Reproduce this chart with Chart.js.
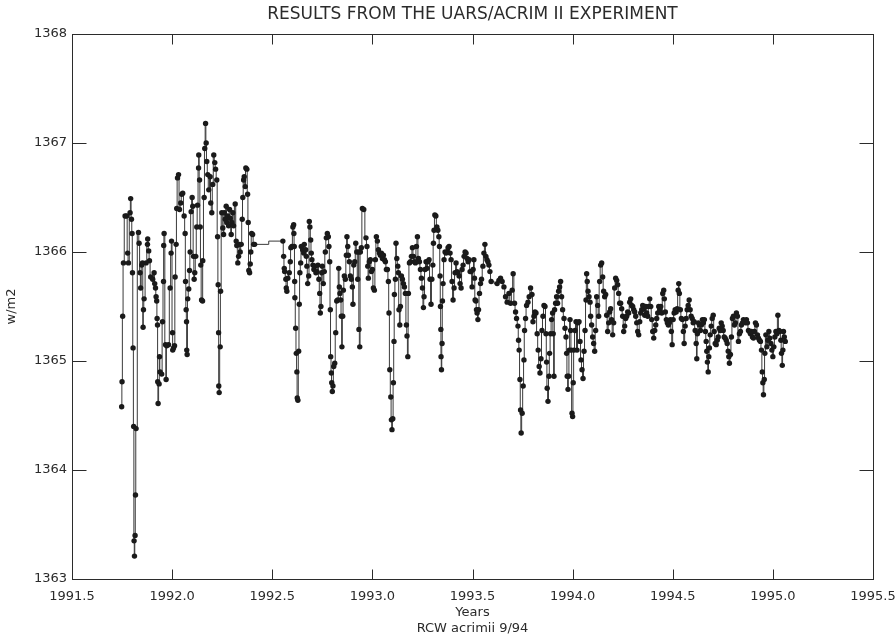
<!DOCTYPE html>
<html>
<head>
<meta charset="utf-8">
<script src="https://cdn.jsdelivr.net/npm/chart.js@4.4.1/dist/chart.umd.min.js"></script>
<style>
  html, body { margin: 0; background: #fff; }
  #wrap { width: 895px; height: 637px; }
</style>
</head>
<body>
<div id="wrap"><canvas id="chart" width="895" height="637"></canvas></div>
<script>
// daily mean irradiance (decimal year, W/m2)
const years = [
  // late 1991 - spring 1992
  1991.748,1991.750,1991.753,1991.757,1991.765,1991.773,1991.778,1991.782,1991.790,1991.793,
  1991.797,1991.800,1991.802,1991.805,1991.808,1991.810,1991.812,1991.815,1991.817,1991.820,
  1991.832,1991.835,1991.840,1991.843,1991.848,1991.852,1991.855,1991.857,1991.860,1991.870,
  1991.877,1991.878,1991.883,1991.887,1991.893,1991.903,1991.910,1991.913,1991.917,1991.920,
  1991.923,1991.925,1991.927,1991.928,1991.930,1991.935,1991.937,1991.940,1991.948,1991.952,
  1991.957,1991.958,1991.960,1991.967,1991.970,1991.973,1991.982,1991.990,1991.995,1991.997,
  1992.002,1992.003,1992.007,1992.012,1992.015,1992.020,1992.023,1992.027,1992.032,1992.037,
  1992.043,1992.048,1992.053,1992.060,1992.065,1992.067,1992.070,1992.072,1992.073,1992.075,
  1992.078,1992.083,1992.087,1992.090,1992.095,1992.100,1992.103,1992.107,1992.110,1992.113,
  1992.118,1992.123,1992.127,1992.132,1992.133,1992.137,1992.140,1992.143,1992.147,1992.152,
  1992.153,1992.160,1992.163,1992.167,1992.170,1992.173,1992.178,1992.183,1992.190,1992.193,
  1992.198,1992.203,1992.208,1992.213,1992.217,1992.223,1992.227,1992.230,1992.232,1992.233,
  1992.235,1992.240,1992.242,1992.248,1992.253,1992.257,1992.260,1992.265,1992.270,1992.273,
  1992.277,1992.282,1992.287,1992.290,1992.295,1992.298,1992.303,1992.307,1992.315,1992.320,
  1992.323,1992.328,1992.332,1992.337,1992.340,1992.345,1992.350,1992.353,1992.357,1992.360,
  1992.365,1992.368,1992.373,1992.377,1992.380,1992.383,1992.387,1992.390,1992.393,1992.397,
  1992.402,1992.407,1992.412,
  // after the data gap
  1992.553,1992.557,1992.560,1992.562,1992.568,1992.570,1992.573,1992.578,1992.585,1992.590,
  1992.593,1992.598,1992.603,1992.607,1992.608,1992.610,1992.612,1992.613,1992.617,1992.620,
  1992.623,1992.625,1992.628,1992.632,1992.635,1992.638,1992.642,1992.645,1992.652,1992.657,
  1992.660,1992.667,1992.670,1992.673,1992.677,1992.682,1992.685,1992.688,1992.692,1992.695,
  1992.698,1992.703,1992.708,1992.713,1992.718,1992.723,1992.728,1992.733,1992.737,1992.740,
  1992.743,1992.747,1992.750,1992.755,1992.760,1992.765,1992.770,1992.775,1992.780,1992.783,
  1992.787,1992.790,1992.792,1992.795,1992.797,1992.800,1992.803,1992.807,1992.812,1992.817,
  1992.822,1992.827,1992.832,1992.835,1992.838,1992.842,1992.845,1992.848,1992.852,1992.855,
  1992.860,1992.865,1992.870,1992.873,1992.877,1992.880,1992.885,1992.890,1992.895,1992.900,
  1992.903,1992.907,1992.912,1992.917,1992.922,1992.927,1992.932,1992.933,1992.937,1992.940,
  1992.945,1992.950,1992.957,1992.968,1992.973,1992.977,1992.980,1992.985,1992.990,1992.995,
  1993.000,1993.005,1993.010,1993.015,1993.020,1993.025,1993.030,1993.035,1993.040,1993.045,
  1993.050,1993.055,1993.060,1993.065,1993.070,1993.075,1993.080,1993.083,1993.087,1993.092,
  1993.095,1993.098,1993.102,1993.105,1993.108,1993.110,1993.115,1993.118,1993.122,1993.127,
  1993.130,1993.133,1993.137,1993.140,1993.145,1993.150,1993.155,1993.160,1993.165,1993.170,
  1993.173,1993.177,1993.180,1993.185,1993.190,1993.195,1993.200,1993.205,1993.210,1993.215,
  1993.220,1993.225,1993.230,1993.235,1993.240,1993.245,1993.250,1993.255,1993.258,1993.263,
  1993.268,1993.273,1993.278,1993.283,1993.288,1993.293,1993.297,1993.302,1993.305,1993.308,
  1993.312,1993.317,1993.322,1993.327,1993.332,1993.335,1993.338,1993.340,1993.342,1993.343,
  1993.345,1993.348,1993.350,1993.353,1993.358,1993.363,1993.368,1993.373,1993.378,1993.383,
  1993.388,1993.393,1993.398,1993.403,1993.408,1993.413,1993.418,1993.423,1993.428,1993.433,
  1993.438,1993.443,1993.448,1993.453,1993.458,1993.463,1993.468,1993.473,1993.478,1993.483,
  1993.488,1993.493,1993.498,1993.503,1993.507,1993.510,1993.513,1993.517,1993.520,1993.523,
  1993.527,1993.530,1993.535,1993.540,1993.545,1993.552,1993.557,1993.562,1993.567,1993.572,
  1993.577,1993.582,1993.587,1993.593,
  // mid 1993 - 1995
  1993.623,1993.632,1993.640,1993.648,1993.657,1993.665,1993.673,1993.682,1993.690,1993.698,
  1993.703,1993.710,1993.715,1993.720,1993.727,1993.730,1993.733,1993.737,1993.740,1993.743,
  1993.748,1993.753,1993.757,1993.760,1993.765,1993.770,1993.777,1993.783,1993.790,1993.797,
  1993.802,1993.807,1993.812,1993.817,1993.823,1993.828,1993.833,1993.837,1993.842,1993.847,
  1993.852,1993.857,1993.862,1993.867,1993.870,1993.873,1993.877,1993.882,1993.885,1993.890,
  1993.895,1993.900,1993.903,1993.907,1993.910,1993.915,1993.920,1993.925,1993.930,1993.935,
  1993.940,1993.945,1993.950,1993.957,1993.962,1993.967,1993.970,1993.973,1993.977,1993.980,
  1993.983,1993.987,1993.990,1993.993,1993.997,1994.000,1994.003,1994.007,1994.012,1994.017,
  1994.022,1994.027,1994.032,1994.037,1994.042,1994.047,1994.052,1994.057,1994.062,1994.067,
  1994.070,1994.073,1994.077,1994.082,1994.087,1994.090,1994.095,1994.100,1994.105,1994.110,
  1994.115,1994.120,1994.125,1994.130,1994.135,1994.140,1994.145,1994.150,1994.155,1994.160,
  1994.165,1994.170,1994.175,1994.180,1994.185,1994.190,1994.195,1994.200,1994.205,1994.210,
  1994.215,1994.220,1994.225,1994.230,1994.235,1994.240,1994.245,1994.250,1994.255,1994.260,
  1994.265,1994.270,1994.275,1994.280,1994.285,1994.290,1994.295,1994.300,1994.305,1994.310,
  1994.315,1994.320,1994.325,1994.330,1994.335,1994.340,1994.345,1994.350,1994.355,1994.360,
  1994.365,1994.370,1994.375,1994.380,1994.385,1994.390,1994.395,1994.400,1994.405,1994.410,
  1994.415,1994.420,1994.425,1994.430,1994.435,1994.440,1994.445,1994.450,1994.455,1994.458,
  1994.463,1994.468,1994.473,1994.478,1994.483,1994.488,1994.493,1994.497,1994.502,1994.507,
  1994.512,1994.517,1994.522,1994.527,1994.530,1994.533,1994.538,1994.543,1994.548,1994.553,
  1994.557,1994.562,1994.567,1994.572,1994.577,1994.582,1994.587,1994.592,1994.597,1994.602,
  1994.607,1994.612,1994.617,1994.620,1994.623,1994.628,1994.633,1994.638,1994.643,1994.648,
  1994.653,1994.658,1994.663,1994.667,1994.670,1994.673,1994.677,1994.680,1994.683,1994.687,
  1994.692,1994.697,1994.702,1994.707,1994.712,1994.717,1994.722,1994.727,1994.732,1994.737,
  1994.742,1994.747,1994.752,1994.757,1994.762,1994.767,1994.772,1994.777,1994.780,1994.783,
  1994.788,1994.793,1994.798,1994.803,1994.808,1994.813,1994.818,1994.823,1994.828,1994.833,
  1994.838,1994.843,1994.848,1994.853,1994.858,1994.863,1994.868,1994.873,1994.878,1994.883,
  1994.888,1994.893,1994.898,1994.903,1994.908,1994.913,1994.918,1994.923,1994.928,1994.933,
  1994.938,1994.943,1994.947,1994.950,1994.953,1994.957,1994.960,1994.965,1994.970,1994.975,
  1994.980,1994.985,1994.990,1994.995,1995.000,1995.005,1995.010,1995.015,1995.020,1995.025,
  1995.030,1995.035,1995.040,1995.043,1995.047,1995.050,1995.053,1995.057,1995.062
];

const wm2 = [
  1364.58,1364.81,1365.41,1365.90,1366.33,1366.33,1365.99,1365.90,1366.36,1366.49,
  1366.30,1366.17,1365.81,1365.12,1364.40,1363.35,1363.21,1363.40,1363.77,1364.38,
  1366.18,1366.08,1365.81,1365.67,1365.88,1365.90,1365.31,1365.47,1365.57,1365.90,
  1366.07,1366.12,1366.01,1365.92,1365.77,1365.75,1365.81,1365.71,1365.67,1365.59,
  1365.55,1365.39,1365.33,1364.81,1364.61,1364.79,1365.04,1364.90,1364.88,1365.36,
  1365.73,1366.06,1366.17,1365.15,1364.83,1365.14,1365.15,1365.67,1365.99,1366.10,
  1365.26,1365.10,1365.12,1365.14,1365.77,1366.07,1366.40,1366.68,1366.71,1366.39,
  1366.45,1366.53,1366.54,1366.33,1366.17,1365.73,1365.47,1365.36,1365.10,1365.06,
  1365.57,1365.66,1365.83,1366.00,1366.37,1366.50,1366.42,1365.96,1365.75,1365.81,
  1365.96,1366.23,1366.43,1366.77,1366.89,1366.66,1366.23,1365.88,1365.56,1365.55,
  1365.92,1366.50,1366.95,1367.18,1367.00,1366.83,1366.71,1366.57,1366.69,1366.45,
  1366.36,1366.62,1366.89,1366.82,1366.76,1366.66,1366.14,1365.70,1365.26,1364.77,
  1364.71,1365.13,1365.64,1366.36,1366.22,1366.16,1366.36,1366.30,1366.42,1366.27,
  1366.33,1366.24,1366.39,1366.31,1366.16,1366.27,1366.36,1366.24,1366.44,1366.10,
  1366.06,1365.90,1365.96,1366.07,1366.00,1366.07,1366.30,1366.50,1366.66,1366.69,
  1366.60,1366.77,1366.76,1366.53,1366.27,1365.83,1365.81,1365.89,1366.00,1366.17,
  1366.16,1366.07,1366.07,
  1366.10,1365.96,1365.85,1365.82,1365.75,1365.67,1365.64,1365.76,1365.81,1365.91,
  1366.04,1366.05,1366.23,1366.25,1366.17,1366.05,1365.73,1365.58,1365.30,1365.07,
  1364.90,1364.66,1364.64,1365.09,1365.52,1365.81,1365.90,1366.05,1366.02,1365.99,
  1366.07,1366.02,1365.96,1365.87,1365.71,1365.78,1366.28,1366.23,1366.11,1365.99,
  1365.93,1365.88,1365.84,1365.87,1365.81,1365.82,1365.88,1365.75,1365.62,1365.44,
  1365.50,1365.81,1365.87,1365.71,1365.82,1366.00,1366.13,1366.17,1366.14,1366.05,
  1365.91,1365.47,1365.04,1364.89,1364.80,1364.72,1364.77,1364.95,1364.98,1365.26,
  1365.55,1365.56,1365.85,1365.68,1365.62,1365.56,1365.41,1365.13,1365.41,1365.65,
  1365.78,1365.75,1365.97,1366.14,1366.05,1365.97,1365.91,1365.78,1365.75,1365.68,
  1365.52,1365.88,1365.91,1366.08,1366.00,1365.75,1366.00,1365.29,1365.13,1366.00,
  1366.04,1366.40,1366.39,1366.13,1366.05,1365.87,1365.76,1365.91,1365.93,1365.82,
  1365.84,1365.67,1365.65,1365.93,1366.14,1366.10,1366.02,1365.99,1365.97,1365.99,
  1365.94,1365.97,1365.93,1365.91,1365.84,1365.84,1365.73,1365.44,1364.92,1364.67,
  1364.46,1364.37,1364.47,1364.80,1365.18,1365.61,1365.75,1366.08,1365.94,1365.87,
  1365.81,1365.47,1365.33,1365.50,1365.78,1365.75,1365.71,1365.68,1365.62,1365.33,
  1365.23,1365.04,1365.62,1365.90,1365.91,1365.96,1366.04,1365.96,1365.91,1365.90,
  1366.05,1366.14,1365.94,1365.91,1365.84,1365.76,1365.67,1365.49,1365.59,1365.84,
  1365.91,1365.85,1365.91,1365.93,1365.75,1365.52,1365.75,1365.88,1366.08,1366.20,
  1366.34,1366.33,1366.23,1366.20,1366.14,1366.05,1365.78,1365.50,1365.29,1365.04,
  1364.92,1365.16,1365.55,1365.71,1365.93,1366.00,1365.99,1366.00,1366.04,1366.05,
  1365.99,1365.93,1365.73,1365.56,1365.67,1365.81,1365.90,1365.82,1365.81,1365.78,
  1365.71,1365.67,1365.84,1365.88,1365.96,1366.00,1365.99,1365.94,1365.91,1365.93,
  1365.82,1365.82,1365.68,1365.84,1365.93,1365.76,1365.56,1365.55,1365.47,1365.44,
  1365.38,1365.47,1365.62,1365.71,1365.75,1365.87,1365.99,1366.07,1365.96,1365.93,
  1365.91,1365.88,1365.82,1365.73,
  1365.71,1365.74,1365.76,1365.73,1365.68,1365.59,1365.54,1365.62,1365.53,1365.65,
  1365.80,1365.53,1365.45,1365.39,1365.32,1365.19,1365.10,1364.83,1364.55,1364.34,
  1364.52,1364.77,1365.01,1365.28,1365.39,1365.51,1365.54,1365.59,1365.67,1365.61,
  1365.36,1365.41,1365.45,1365.44,1365.25,1365.10,1364.95,1364.89,1365.02,1365.28,
  1365.41,1365.51,1365.50,1365.25,1364.99,1364.75,1364.63,1364.86,1365.07,1365.25,
  1365.38,1365.44,1365.25,1364.86,1365.47,1365.53,1365.59,1365.53,1365.64,1365.68,
  1365.73,1365.59,1365.47,1365.39,1365.30,1365.22,1365.07,1364.86,1364.74,1364.86,
  1365.10,1365.38,1365.28,1365.10,1364.52,1364.49,1364.80,1365.10,1365.28,1365.36,
  1365.10,1365.35,1365.36,1365.18,1365.01,1364.92,1364.84,1365.09,1365.28,1365.56,
  1365.80,1365.73,1365.64,1365.59,1365.54,1365.41,1365.33,1365.22,1365.16,1365.09,
  1365.28,1365.59,1365.51,1365.41,1365.73,1365.88,1365.90,1365.77,1365.64,1365.59,
  1365.61,1365.42,1365.27,1365.35,1365.45,1365.48,1365.38,1365.24,1365.35,1365.67,
  1365.76,1365.74,1365.70,1365.62,1365.53,1365.53,1365.48,1365.41,1365.27,1365.32,
  1365.39,1365.41,1365.45,1365.44,1365.54,1365.57,1365.51,1365.50,1365.47,1365.45,
  1365.41,1365.35,1365.27,1365.24,1365.36,1365.44,1365.47,1365.51,1365.48,1365.42,
  1365.50,1365.44,1365.41,1365.50,1365.57,1365.50,1365.38,1365.27,1365.21,1365.28,
  1365.33,1365.39,1365.44,1365.50,1365.47,1365.50,1365.44,1365.62,1365.65,1365.57,
  1365.45,1365.38,1365.35,1365.33,1365.35,1365.38,1365.27,1365.15,1365.38,1365.44,
  1365.47,1365.45,1365.48,1365.65,1365.71,1365.62,1365.47,1365.39,1365.38,1365.27,
  1365.16,1365.32,1365.39,1365.47,1365.51,1365.56,1365.47,1365.41,1365.39,1365.35,
  1365.36,1365.28,1365.16,1365.02,1365.25,1365.35,1365.33,1365.28,1365.33,1365.38,
  1365.35,1365.38,1365.27,1365.18,1365.09,1364.99,1364.90,1365.04,1365.12,1365.24,
  1365.32,1365.39,1365.42,1365.27,1365.16,1365.15,1365.19,1365.22,1365.30,1365.28,
  1365.35,1365.32,1365.28,1365.22,1365.21,1365.19,1365.16,1365.09,1365.04,1364.98,
  1365.06,1365.22,1365.39,1365.41,1365.33,1365.35,1365.44,1365.41,1365.18,1365.25,
  1365.27,1365.33,1365.35,1365.38,1365.36,1365.35,1365.38,1365.35,1365.28,1365.27,
  1365.25,1365.27,1365.22,1365.21,1365.27,1365.35,1365.33,1365.24,1365.21,1365.19,
  1365.18,1365.10,1364.90,1364.80,1364.69,1364.83,1365.07,1365.24,1365.13,1365.19,
  1365.27,1365.21,1365.16,1365.10,1365.04,1365.13,1365.22,1365.27,1365.25,1365.42,
  1365.28,1365.27,1365.19,1365.07,1364.96,1365.10,1365.27,1365.22,1365.18
];

const xTicks = [1991.5, 1992.0, 1992.5, 1993.0, 1993.5, 1994.0, 1994.5, 1995.0, 1995.5];
const yTicks = [1363, 1364, 1365, 1366, 1367, 1368];
const titleText = 'RESULTS FROM THE UARS/ACRIM II EXPERIMENT';

const ink = '#2b2b2b';
const font = { family: 'DejaVu Sans', size: 13 };

// frame plus inward tick marks on all four sides, and the title centred over the plot box
const frameTicks = {
  id: 'frameTicks',
  afterDraw(chart) {
    const { ctx, chartArea: a } = chart;
    const x = chart.scales.x, y = chart.scales.y;
    const L = Math.round(a.left) + 0.5, R = Math.round(a.right) + 0.5;
    const T = Math.round(a.top) + 0.5, B = Math.round(a.bottom) + 0.5;
    ctx.save();
    ctx.strokeStyle = ink;
    ctx.lineWidth = 1;
    ctx.strokeRect(L, T, R - L, B - T);
    ctx.beginPath();
    xTicks.forEach(v => {
      const px = Math.round(x.getPixelForValue(v)) + 0.5;
      ctx.moveTo(px, B); ctx.lineTo(px, B - 10);
      ctx.moveTo(px, T); ctx.lineTo(px, T + 10);
    });
    yTicks.forEach(v => {
      const py = Math.round(y.getPixelForValue(v)) + 0.5;
      ctx.moveTo(L, py); ctx.lineTo(L + 14, py);
      ctx.moveTo(R, py); ctx.lineTo(R - 14, py);
    });
    ctx.stroke();

    ctx.fillStyle = ink;
    ctx.font = '17px "DejaVu Sans"';
    ctx.textAlign = 'center';
    ctx.textBaseline = 'middle';
    ctx.fillText(titleText, (a.left + a.right) / 2, 15);
    ctx.restore();
  }
};

new Chart(document.getElementById('chart'), {
  type: 'line',
  data: {
    datasets: [{
      data: years.map((t, i) => ({ x: t, y: wm2[i] })),
      stepped: 'middle',
      borderColor: '#3a3a3a',
      borderWidth: 1,
      pointRadius: 2.7,
      pointBackgroundColor: '#1a1a1a',
      pointBorderWidth: 0,
      pointHoverRadius: 0
    }]
  },
  options: {
    responsive: false,
    animation: false,
    devicePixelRatio: 1,
    layout: { padding: { top: 34, right: 22, bottom: 0, left: 0 } },
    plugins: {
      legend: { display: false },
      tooltip: { enabled: false },
      title: { display: false }
    },
    scales: {
      x: {
        type: 'linear',
        min: 1991.5,
        max: 1995.5,
        afterBuildTicks: s => { s.ticks = xTicks.map(v => ({ value: v })); },
        afterFit: s => { s.height = 58; s.paddingLeft = 0; s.paddingRight = 0; },
        grid: { display: false, drawTicks: false },
        border: { display: false },
        ticks: {
          color: ink, font, padding: 10,
          maxRotation: 0, autoSkip: false,
          callback: v => v.toFixed(1)
        },
        title: {
          display: true,
          text: ['Years', 'RCW acrimii 9/94'],
          color: ink, font,
          padding: { top: 0, bottom: 1 }
        }
      },
      y: {
        type: 'linear',
        min: 1363,
        max: 1368,
        afterBuildTicks: s => { s.ticks = yTicks.map(v => ({ value: v })); },
        afterFit: s => { s.width = 72; s.paddingTop = 0; s.paddingBottom = 0; },
        grid: { display: false, drawTicks: false },
        border: { display: false },
        ticks: { color: ink, font, padding: 5, callback: v => String(v) },
        title: {
          display: true,
          text: 'w/m2',
          color: ink, font,
          padding: { top: 4, bottom: 0 }
        }
      }
    }
  },
  plugins: [frameTicks]
});
</script>
</body>
</html>
